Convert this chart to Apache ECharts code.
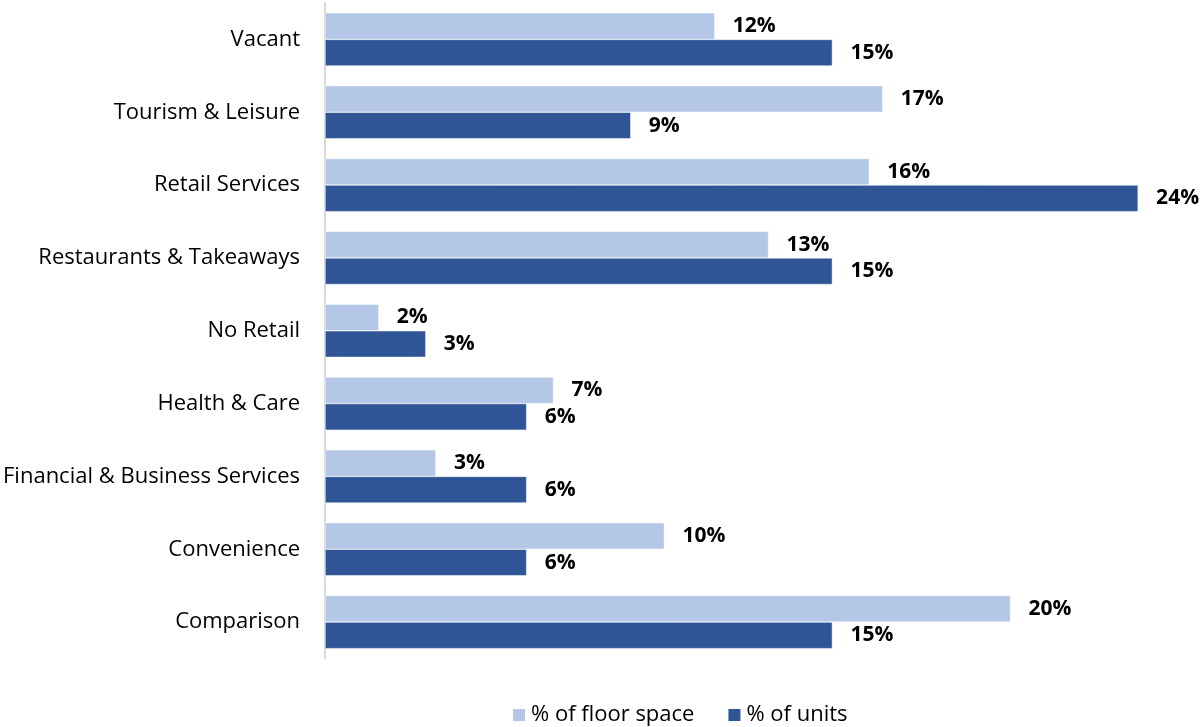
<!DOCTYPE html>
<html><head><meta charset="utf-8">
<script src="https://cdn.jsdelivr.net/npm/echarts@6/dist/echarts.min.js"></script>
<style>html,body{margin:0;padding:0;background:#fff}#c{width:1201px;height:727px}</style>
</head><body><div id="c"></div>
<script>
const categories = ["Comparison","Convenience","Financial & Business Services","Health & Care","No Retail","Restaurants & Takeaways","Retail Services","Tourism & Leisure","Vacant"];
const floorSpace = [20.4, 10.1, 3.3, 6.8, 1.6, 13.2, 16.2, 16.6, 11.6];
const units = [15.1, 6.0, 6.0, 6.0, 3.0, 15.1, 24.2, 9.1, 15.1];
const seriesNames = ["% of floor space", "% of units"];
const FONT = "Open Sans";
const chart = echarts.init(document.getElementById('c'));
const lbl = {show:true, position:'right', distance:18, fontFamily:FONT, fontWeight:'bold', fontSize:21, color:'#000', formatter:p=>Math.round(p.value)+'%'};
chart.setOption({
  animation:false,
  grid:{left:325, right:36, top:3, bottom:68.5, containLabel:false},
  legend:{top:699, left:506, itemWidth:14, itemHeight:14, itemGap:32, icon:'rect',
    textStyle:{fontFamily:FONT, fontSize:22, color:'#000'}, data:seriesNames},
  xAxis:{type:'value', min:0, max:25, show:false},
  yAxis:{type:'category', data:categories, axisTick:{show:false},
    axisLine:{show:true, lineStyle:{color:'#d9d9d9', width:2}},
    axisLabel:{fontFamily:FONT, fontSize:22, color:'#000', margin:25}},
  series:[
    {name:seriesNames[0], type:'bar', data:floorSpace, barGap:'0%', barCategoryGap:'27%', itemStyle:{color:'#b4c7e7', borderColor:'#fff', borderWidth:0.5}, label:lbl},
    {name:seriesNames[1], type:'bar', data:units, barGap:'0%', barCategoryGap:'27%', itemStyle:{color:'#2f5597', borderColor:'#fff', borderWidth:0.5}, label:lbl}
  ]
});
</script></body></html>
